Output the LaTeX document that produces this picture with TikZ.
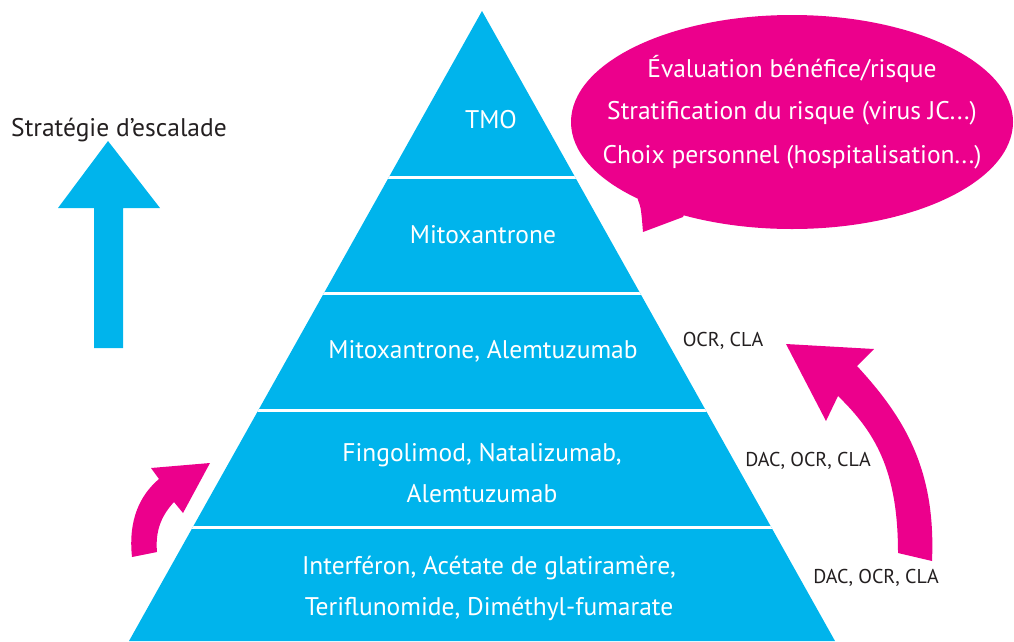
\documentclass[tikz,border=0pt]{standalone}
\usepackage{fontspec}
\setmainfont{PT Sans}
\definecolor{pyrblue}{HTML}{00B4EC}
\definecolor{pink}{HTML}{EC008C}
\definecolor{txtdark}{HTML}{231F20}
\tikzset{
  lvl/.style={text=white, font=\fontsize{25.5}{41}\selectfont, align=center, inner sep=0pt},
  side/.style={text=txtdark, font=\fontsize{20}{24}\selectfont, inner sep=0pt},
  bubtxt/.style={text=white, font=\fontsize{25.5}{30}\selectfont, inner sep=0pt},
}
\begin{document}
\begin{tikzpicture}[x=1pt,y=-1pt]
\useasboundingbox (0,0) rectangle (1014,641);
% pyramid
\fill[pyrblue] (482,11) -- (835,641) -- (129,641) -- cycle;
\begin{scope}
\clip (482,11) -- (835,641) -- (129,641) -- cycle;
\foreach \yy in {177,293,410,527}
  \draw[white, line width=3pt] (0,\yy) -- (1014,\yy);
\end{scope}
% level labels
\node[lvl] (tmo) at (491,120) {TMO};
\node[lvl] (mito) at (483,235) {Mitoxantrone};
\node[lvl] (mitoal) at (483,351) {Mitoxantrone, Alemtuzumab};
\node[lvl] (fingo) at (482,473) {Fingolimod, Natalizumab,\\Alemtuzumab};
\node[lvl] (inter) at (489,588) {Interféron, Acétate de glatiramère,\\Teriflunomide, Diméthyl-fumarate};
% side labels
\node[side] (s1) at (723,341) {OCR, CLA};
\node[side] (s2) at (808,461) {DAC, OCR, CLA};
\node[side] (s3) at (876,578) {DAC, OCR, CLA};
% escalation strategy
\node[text=txtdark, font=\fontsize{25.5}{28}\selectfont, inner sep=0pt] (strat) at (119,130) {Stratégie d’escalade};
\fill[pyrblue] (108,141) -- (160,208) -- (123,208) -- (123,348) -- (94,348) -- (94,208) -- (58,208) -- cycle;
% speech bubble
\fill[pink] (792,122) ellipse [x radius=221, y radius=107];
\fill[pink] (636,185) -- (638,200) .. controls (641,208) .. (643,232) -- (683,217) -- (690,200) -- cycle;
\node[bubtxt] (b1) at (792,69) {Évaluation bénéfice/risque};
\node[bubtxt] (b2) at (792,113) {Stratification du risque (virus JC...)};
\node[bubtxt] (b3) at (792,157) {Choix personnel (hospitalisation...)};
% pink curved arrows
\fill[pink] (898,553) .. controls (898,470) and (875,432) .. (838,396)
  -- (826,421) -- (786,344) -- (874,349) -- (857,366)
  .. controls (905,418) and (936,470) .. (932,561) -- cycle;
\fill[pink] (132,557) .. controls (128,520) and (140,495) .. (159,479)
  -- (151,468) -- (210,463) -- (183,513) -- (174,502)
  .. controls (162,515) and (155,530) .. (157,552) -- cycle;
\end{tikzpicture}
\end{document}
